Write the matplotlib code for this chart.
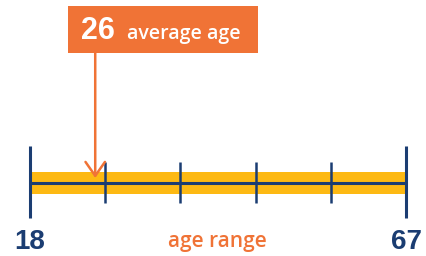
import matplotlib
matplotlib.use("Agg")
import matplotlib.pyplot as plt
from matplotlib.patches import Rectangle

min_age = 18
max_age = 67
avg_age = 26
n_segments = 5
end_labels = ["18", "67"]
avg_label_num = "26"
avg_label_text = "average age"
axis_label = "age range"

ORANGE = "#F07336"
YELLOW = "#FDB913"
NAVY = "#1B3D72"

W, H = 426, 256
fig = plt.figure(figsize=(W / 100, H / 100), dpi=100)
ax = fig.add_axes([0, 0, 1, 1])
scale = 376 / (max_age - min_age)
ax.set_xlim(min_age - 30 / scale, max_age + 20 / scale)
ax.set_ylim(H, 0)
ax.axis("off")

def px(x):
    return min_age + (x - 30) / scale

# yellow band
ax.add_patch(Rectangle((min_age, 172), max_age - min_age, 22, color=YELLOW, lw=0, zorder=1))
# navy line
ax.plot([min_age, max_age], [182.5, 182.5], color=NAVY, lw=2.2, zorder=2, solid_capstyle="butt")
# ticks
step = (max_age - min_age) / n_segments
for i in range(n_segments + 1):
    x = min_age + i * step
    if i == 0 or i == n_segments:
        ax.plot([x, x], [146, 218], color=NAVY, lw=2.2, zorder=3, solid_capstyle="butt")
    else:
        ax.plot([x, x], [162, 203], color=NAVY, lw=1.8, zorder=3, solid_capstyle="butt")

# arrow
ax.annotate("", xy=(avg_age + 0.5, 178), xytext=(avg_age + 0.5, 53),
            arrowprops=dict(arrowstyle="->,head_length=1.0,head_width=0.7",
                            color=ORANGE, lw=1.8, shrinkA=0, shrinkB=0), zorder=4)

# box
ax.add_patch(Rectangle((px(68), 6), px(258) - px(68), 47, color=ORANGE, lw=0, zorder=5))
ax.text(px(81), 39, avg_label_num, color="white", fontsize=22, fontweight="bold",
        va="baseline", ha="left", family="Liberation Sans", zorder=6)
ax.text(px(127), 39, avg_label_text, color="white", fontsize=14, fontweight="semibold",
        va="baseline", ha="left", family="Open Sans", zorder=6)

# labels
ax.text(min_age, 242, end_labels[0], color=NAVY, fontsize=20, fontweight="bold",
        ha="center", va="center", family="Liberation Sans")
ax.text(max_age, 242, end_labels[1], color=NAVY, fontsize=20, fontweight="bold",
        ha="center", va="center", family="Liberation Sans")
ax.text(px(217.5), 242, axis_label, color=ORANGE, fontsize=15, fontweight="semibold",
        ha="center", va="center", family="Open Sans")

fig.savefig("out.png", dpi=100)
